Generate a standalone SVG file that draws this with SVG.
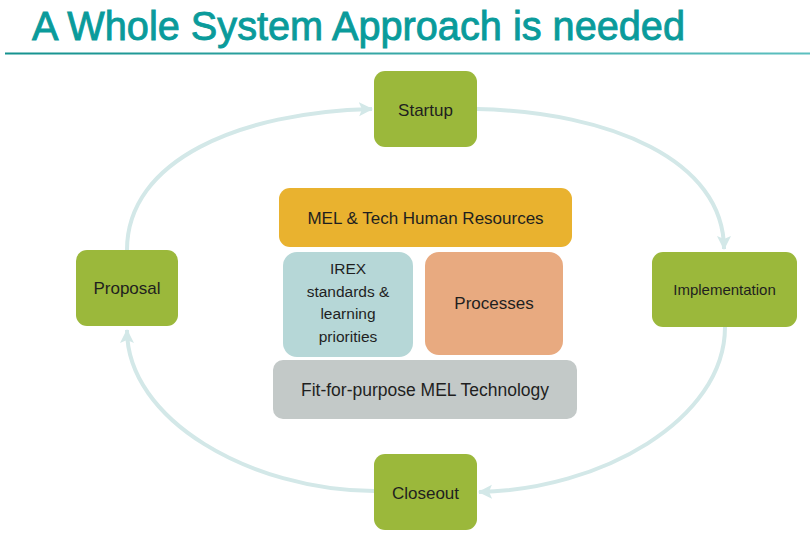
<svg xmlns="http://www.w3.org/2000/svg" width="810" height="542" viewBox="0 0 810 542">
<defs>
<linearGradient id="rule" x1="0" y1="0" x2="1" y2="0">
<stop offset="0" stop-color="#15928f"/>
<stop offset="1" stop-color="#5cbfbf"/>
</linearGradient>
<marker id="ah" markerUnits="userSpaceOnUse" markerWidth="16" markerHeight="16" refX="13" refY="7" orient="auto">
<path d="M0,0 L14,7 L0,14 L3,7 Z" fill="#d3e8e8"/>
</marker>
<style>
.phase rect{fill:#9bb83b}
.lbl{font-family:"Liberation Sans",Arial,sans-serif;fill:#1f1f1f;text-anchor:middle}
.conn path{fill:none;stroke:#d3e8e8;stroke-width:4;marker-end:url(#ah)}
</style>
</defs>
<rect width="810" height="542" fill="#ffffff"/>
<g id="title">
<text x="32" y="40" font-family="'Liberation Sans',Arial,sans-serif" font-size="40" fill="#0a9b9b" stroke="#0a9b9b" stroke-width="0.9" textLength="653" lengthAdjust="spacingAndGlyphs">A Whole System Approach is needed</text>
<rect x="5" y="52.5" width="805" height="2" fill="url(#rule)"/>
</g>
<g id="connectors" class="conn">
<path d="M127,250 C127,160 240,112 372,109"/>
<path d="M477,109 C610,112 724,160 724,249"/>
<path d="M725,327 C725,420 600,490 479,492"/>
<path d="M374,491 C250,490 127,420 127,330"/>
</g>
<g id="startup" class="phase">
<rect x="374" y="71" width="103" height="76" rx="11"/>
<text class="lbl" x="425.5" y="115.5" font-size="17">Startup</text>
</g>
<g id="implementation" class="phase">
<rect x="652" y="252" width="145" height="75" rx="11"/>
<text class="lbl" x="724.5" y="294.5" font-size="15">Implementation</text>
</g>
<g id="closeout" class="phase">
<rect x="374" y="454" width="103" height="76" rx="11"/>
<text class="lbl" x="425.5" y="498.5" font-size="17">Closeout</text>
</g>
<g id="proposal" class="phase">
<rect x="76" y="250" width="102" height="76" rx="11"/>
<text class="lbl" x="127" y="294" font-size="17">Proposal</text>
</g>
<g id="hr">
<rect x="279" y="188" width="293" height="59" rx="11" fill="#e9b22f"/>
<text class="lbl" x="425.5" y="224" font-size="17">MEL &amp; Tech Human Resources</text>
</g>
<g id="irex">
<rect x="283" y="252" width="130" height="105" rx="14" fill="#b6d7d7"/>
<text class="lbl" font-size="15.5"><tspan x="348" y="274">IREX</tspan><tspan x="348" y="297">standards &amp;</tspan><tspan x="348" y="319">learning</tspan><tspan x="348" y="342">priorities</tspan></text>
</g>
<g id="processes">
<rect x="425" y="252" width="138" height="103" rx="14" fill="#e8aa80"/>
<text class="lbl" x="494" y="309" font-size="17">Processes</text>
</g>
<g id="technology">
<rect x="273" y="360" width="304" height="59" rx="10" fill="#c3c9c8"/>
<text class="lbl" x="425" y="396" font-size="17.5">Fit-for-purpose MEL Technology</text>
</g>
</svg>
